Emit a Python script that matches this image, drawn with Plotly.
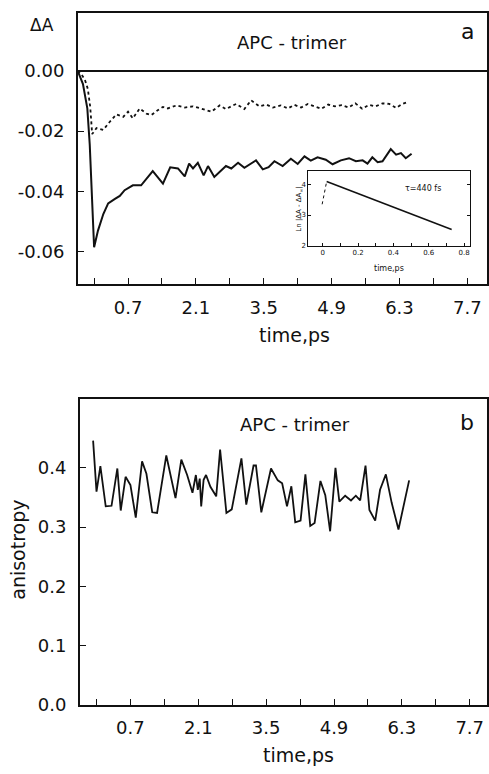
import plotly.graph_objects as go

# ---------------- data ----------------
# Panel a: solid transient (delta A vs time, ps)
t_solid = [-0.34, -0.23, -0.14, -0.09, 0.0, 0.08, 0.19, 0.29, 0.43, 0.53, 0.63, 0.80, 0.97,
           1.21, 1.42, 1.57, 1.73, 1.87, 1.96, 2.04, 2.14, 2.26, 2.35, 2.48, 2.72, 2.83,
           2.97, 3.10, 3.34, 3.48, 3.60, 3.72, 3.89, 4.06, 4.20, 4.34, 4.47, 4.61, 4.78,
           4.92, 5.09, 5.26, 5.40, 5.54, 5.64, 5.74, 5.85, 5.95, 6.12, 6.23, 6.33, 6.43, 6.55]
dA_solid = [0.0, -0.0044, -0.0125, -0.0245, -0.0585, -0.053, -0.0475, -0.044, -0.0425, -0.0415,
            -0.0396, -0.038, -0.038, -0.0333, -0.0374, -0.032, -0.0324, -0.035, -0.0308, -0.0324,
            -0.0305, -0.0347, -0.0316, -0.0352, -0.0316, -0.0324, -0.0305, -0.0322, -0.0297,
            -0.0327, -0.032, -0.030, -0.0316, -0.0292, -0.0309, -0.0284, -0.0298, -0.0287,
            -0.0295, -0.031, -0.0297, -0.029, -0.030, -0.0297, -0.0308, -0.0287, -0.0303,
            -0.030, -0.026, -0.0278, -0.0273, -0.029, -0.0275]

# Panel a: dotted transient
t_dot = [-0.34, -0.26, -0.19, -0.13, -0.08, -0.04, 0.05, 0.19, 0.32, 0.46, 0.60, 0.70, 0.80,
         0.94, 1.08, 1.18, 1.32, 1.42, 1.52, 1.70, 1.87, 2.04, 2.18, 2.31, 2.42, 2.59, 2.72,
         2.93, 3.10, 3.24, 3.41, 3.55, 3.69, 3.85, 4.00, 4.13, 4.27, 4.41, 4.55, 4.69, 4.83,
         4.97, 5.11, 5.25, 5.39, 5.53, 5.67, 5.81, 5.95, 6.09, 6.23, 6.36, 6.47]
dA_dot = [0.0, -0.0012, -0.003, -0.006, -0.012, -0.021, -0.019, -0.0196, -0.017, -0.0145,
          -0.0153, -0.0136, -0.0158, -0.0125, -0.0142, -0.0147, -0.013, -0.012, -0.0125,
          -0.0115, -0.0122, -0.0118, -0.0124, -0.0131, -0.0136, -0.0115, -0.0127, -0.011,
          -0.0127, -0.0098, -0.0118, -0.0112, -0.0122, -0.0115, -0.0125, -0.0113, -0.0122,
          -0.011, -0.0118, -0.0126, -0.0112, -0.0118, -0.0114, -0.0122, -0.0108, -0.0126,
          -0.0113, -0.0118, -0.0108, -0.011, -0.0123, -0.011, -0.0104]

# Inset: ln|dA - dA_inf| vs time
inset_rise_t = [-0.003, 0.0225]
inset_rise_y = [3.35, 4.09]
inset_fit_t = [0.0225, 0.73]
inset_fit_y = [4.09, 2.53]

# Panel b: anisotropy
t_b = [-0.07, 0.0, 0.08, 0.19, 0.31, 0.43, 0.50, 0.60, 0.70, 0.81, 0.94, 1.03, 1.15, 1.25,
       1.44, 1.63, 1.75, 1.87, 1.98, 2.05, 2.09, 2.13, 2.16, 2.21, 2.26, 2.35, 2.47, 2.55,
       2.68, 2.79, 2.99, 3.09, 3.24, 3.29, 3.40, 3.60, 3.74, 3.83, 3.93, 4.02, 4.10, 4.21,
       4.31, 4.41, 4.50, 4.62, 4.72, 4.82, 4.93, 5.01, 5.13, 5.25, 5.35, 5.44, 5.55, 5.63,
       5.75, 5.85, 5.97, 6.09, 6.23, 6.45]
anis = [0.446, 0.36, 0.403, 0.335, 0.336, 0.399, 0.328, 0.385, 0.371, 0.316, 0.411, 0.39,
        0.325, 0.324, 0.421, 0.349, 0.414, 0.388, 0.358, 0.388, 0.363, 0.382, 0.335, 0.38,
        0.388, 0.368, 0.352, 0.431, 0.324, 0.33, 0.416, 0.338, 0.404, 0.404, 0.325, 0.399,
        0.379, 0.374, 0.335, 0.369, 0.308, 0.311, 0.389, 0.302, 0.307, 0.378, 0.354, 0.293,
        0.40, 0.343, 0.353, 0.345, 0.353, 0.345, 0.404, 0.329, 0.311, 0.363, 0.389, 0.341,
        0.296, 0.379]

x_tickvals = [0.7, 2.1, 3.5, 4.9, 6.3, 7.7]
x_ticktext = ["0.7", "2.1", "3.5", "4.9", "6.3", "7.7"]
x_minorvals = [0.0, 1.4, 2.8, 4.2, 5.6, 7.0]
ya_tickvals = [0.0, -0.02, -0.04, -0.06]
ya_ticktext = ["0.00", "-0.02", "-0.04", "-0.06"]
yb_tickvals = [0.0, 0.1, 0.2, 0.3, 0.4]
yb_ticktext = ["0.0", "0.1", "0.2", "0.3", "0.4"]
inset_xticks = [0.0, 0.2, 0.4, 0.6, 0.8]
inset_xtext = ["0", "0.2", "0.4", "0.6", "0.8"]
inset_xminor = [0.1, 0.3, 0.5, 0.7]
inset_yticks = [2, 3, 4]

# ---------------- figure ----------------
W, H = 489, 774
FONT = "DejaVu Sans"
BLACK = "#111111"

def px_x(p):
    return min(1.0, max(0.0, p / W))

def px_y(p):
    return min(1.0, max(0.0, 1 - p / H))

fig = go.Figure()

fig.add_trace(go.Scatter(x=t_solid, y=dA_solid, mode="lines",
                         line=dict(color=BLACK, width=2), xaxis="x", yaxis="y"))
fig.add_trace(go.Scatter(x=t_dot, y=dA_dot, mode="lines",
                         line=dict(color=BLACK, width=1.8, dash="dot"), xaxis="x", yaxis="y"))
fig.add_trace(go.Scatter(x=inset_rise_t, y=inset_rise_y, mode="lines",
                         line=dict(color=BLACK, width=1, dash="dot"), xaxis="x3", yaxis="y3"))
fig.add_trace(go.Scatter(x=inset_fit_t, y=inset_fit_y, mode="lines",
                         line=dict(color=BLACK, width=1.5), xaxis="x3", yaxis="y3"))
fig.add_trace(go.Scatter(x=t_b, y=anis, mode="lines",
                         line=dict(color=BLACK, width=1.8), xaxis="x2", yaxis="y2"))

axis_common = dict(showline=True, linecolor=BLACK, linewidth=1.6, mirror=True,
                   showgrid=False, zeroline=False, ticks="inside", tickcolor=BLACK,
                   tickwidth=1.4, ticklen=6, tickfont=dict(family=FONT, size=18, color=BLACK))
minor_x = dict(tickvals=x_minorvals, ticks="inside", ticklen=6, tickwidth=1.4, tickcolor=BLACK,
               showgrid=False)

RIGHT = 488
XA_LEFT, XB_LEFT = 78, 80
xa_range = [(XA_LEFT - 94.3) / 48.57, (RIGHT - 94.3) / 48.57]
xb_range = [(XB_LEFT - 96.7) / 48.57, (RIGHT - 96.7) / 48.57]

fig.update_layout(
    width=W, height=H, margin=dict(l=0, r=0, t=0, b=0),
    paper_bgcolor="white", plot_bgcolor="white", showlegend=False,
    xaxis=dict(axis_common, domain=[px_x(XA_LEFT), px_x(RIGHT)], range=xa_range,
               tickmode="array", tickvals=x_tickvals, ticktext=x_ticktext, minor=minor_x,
               ticklabelstandoff=6, ticklabeloverflow="allow", anchor="y"),
    yaxis=dict(axis_common, domain=[px_y(288), px_y(13)], range=[-0.0708, 0.0192],
               tickmode="array", tickvals=ya_tickvals, ticktext=ya_ticktext,
               zeroline=True, zerolinecolor=BLACK, zerolinewidth=1.6,
               ticklabelstandoff=8, anchor="x"),
    xaxis2=dict(axis_common, domain=[px_x(XB_LEFT), px_x(RIGHT)], range=xb_range,
                tickmode="array", tickvals=x_tickvals, ticktext=x_ticktext, minor=minor_x,
                ticklabelstandoff=6, ticklabeloverflow="allow", anchor="y2"),
    yaxis2=dict(axis_common, domain=[px_y(714), px_y(404)], range=[0.0, 0.5167],
                tickmode="array", tickvals=yb_tickvals, ticktext=yb_ticktext,
                ticklabelstandoff=8, anchor="x2"),
    xaxis3=dict(showline=True, linecolor=BLACK, linewidth=1.2, mirror=True, showgrid=False,
                zeroline=False, ticks="inside", tickcolor=BLACK, ticklen=3, tickwidth=1,
                domain=[px_x(309), px_x(471)], range=[-0.081, 0.834],
                tickmode="array", tickvals=inset_xticks, ticktext=inset_xtext,
                minor=dict(tickvals=inset_xminor, ticks="inside", ticklen=3, tickwidth=1,
                           tickcolor=BLACK, showgrid=False),
                tickfont=dict(family=FONT, size=7, color=BLACK), anchor="y3"),
    yaxis3=dict(showline=True, linecolor=BLACK, linewidth=1.2, mirror="ticks", showgrid=False,
                zeroline=False, ticks="inside", tickcolor=BLACK, ticklen=3, tickwidth=1,
                domain=[px_y(249), px_y(173)], range=[2.0, 4.44],
                tickmode="array", tickvals=inset_yticks,
                tickfont=dict(family=FONT, size=7, color=BLACK), anchor="x3"),
)

def ann(text, x, y, size, **kw):
    fig.add_annotation(text=text, x=px_x(x), y=px_y(y), xref="paper", yref="paper",
                       xanchor="center", yanchor="middle",
                       showarrow=False, font=dict(family=FONT, size=size, color=BLACK), **kw)

ann("ΔA", 42, 25, 17)
ann("APC - trimer", 293, 43, 18)
ann("a", 468, 32, 22)
ann("time,ps", 295, 339, 19)
ann("APC - trimer", 296, 430, 18)
ann("b", 468, 428, 22)
ann("time,ps", 299, 765, 19)
ann("anisotropy", 18, 557, 19, textangle=-90)
ann("τ=440 fs", 424, 191, 8)
ann("time,ps", 390, 272, 8)
ann("Ln |ΔA - ΔA<sub>∞</sub>|", 300, 211, 7, textangle=-90)

fig.write_html("out.html", config={"displayModeBar": False},
               post_script="document.body.style.margin='0';document.body.style.overflow='hidden';")
